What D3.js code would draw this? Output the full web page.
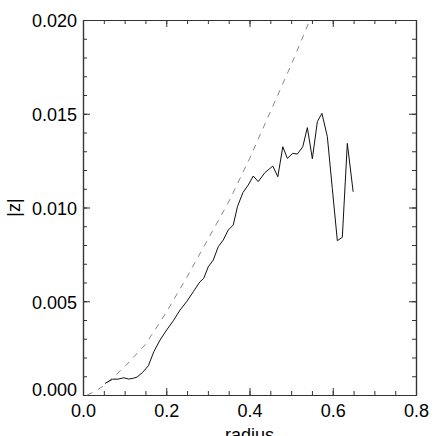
<!DOCTYPE html>
<html>
<head>
<meta charset="utf-8">
<script src="https://cdn.jsdelivr.net/npm/d3@7"></script>
<style>
  html, body { margin: 0; padding: 0; background: #fff; }
  svg { display: block; font-family: "Liberation Sans", Arial, Helvetica, sans-serif; }
</style>
</head>
<body>
<div id="chart"></div>
<script>
// measured profile (solid line)
const radius = [0.053, 0.071, 0.085, 0.098, 0.110, 0.122, 0.130, 0.143, 0.157, 0.170,
  0.185, 0.201, 0.217, 0.233, 0.249, 0.265, 0.281, 0.290, 0.301, 0.313,
  0.325, 0.337, 0.349, 0.361, 0.371, 0.384, 0.397, 0.409, 0.421, 0.437,
  0.456, 0.468, 0.480, 0.491, 0.504, 0.515, 0.528, 0.539, 0.551, 0.563,
  0.574, 0.587, 0.599, 0.611, 0.623, 0.635, 0.649];
const zAbs = [0.00062, 0.00084, 0.00085, 0.00092, 0.00085, 0.00090, 0.00096, 0.00120, 0.00156, 0.00230,
  0.00293, 0.00347, 0.00396, 0.00453, 0.00498, 0.00551, 0.00604, 0.00622, 0.00684, 0.00720,
  0.00791, 0.00827, 0.00880, 0.00907, 0.01004, 0.01079, 0.01120, 0.01168, 0.01138, 0.01186,
  0.01221, 0.01164, 0.01324, 0.01262, 0.01289, 0.01285, 0.01324, 0.01426, 0.01260, 0.01458,
  0.01502, 0.01378, 0.01100, 0.00823, 0.00841, 0.01342, 0.01084];

// model curve (dashed line)
const modelRadius = [0.010, 0.030, 0.050, 0.100, 0.150, 0.200, 0.250, 0.300, 0.350, 0.400, 0.450, 0.500, 0.545];
const modelZ = [0.0000, 0.0002, 0.0005, 0.0015, 0.0027, 0.0044, 0.0063, 0.0083, 0.0103, 0.0126, 0.0151, 0.0176, 0.0200];

const xMajor = [0, 0.2, 0.4, 0.6, 0.8];
const yMajor = [0, 0.005, 0.010, 0.015, 0.020];

const width = 436, height = 436;
const margin = { top: 20, right: 20, bottom: 41, left: 83 };
const plotW = width - margin.left - margin.right;
const plotH = height - margin.top - margin.bottom;

const svg = d3.select('#chart').append('svg')
  .attr('width', width)
  .attr('height', height);

const g = svg.append('g').attr('transform', `translate(${margin.left},${margin.top})`);

const x = d3.scaleLinear().domain([0, 0.8]).range([0, plotW]);
const y = d3.scaleLinear().domain([0, 0.02]).range([plotH, 0]);

const xMinor = d3.range(0, 0.8001, 0.05);
const yMinor = d3.range(0, 0.02001, 0.001);

const axisColor = '#333';

function styleAxis(sel) {
  sel.selectAll('path, line').attr('stroke', axisColor);
  sel.selectAll('text').attr('fill', '#000').attr('font-size', 18)
    .attr('font-family', '"Liberation Sans", Arial, Helvetica, sans-serif');
}

// bottom axis with labels
g.append('g').attr('transform', `translate(0,${plotH})`)
  .call(d3.axisBottom(x).tickValues(xMajor).tickFormat(d3.format('.1f')).tickSize(-7).tickSizeOuter(0).tickPadding(9))
  .call(styleAxis);
g.append('g').attr('transform', `translate(0,${plotH})`)
  .call(d3.axisBottom(x).tickValues(xMinor).tickFormat('').tickSize(-4).tickSizeOuter(0))
  .call(styleAxis);

// top axis (no labels)
g.append('g')
  .call(d3.axisTop(x).tickValues(xMajor).tickFormat('').tickSize(-7).tickSizeOuter(0))
  .call(styleAxis);
g.append('g')
  .call(d3.axisTop(x).tickValues(xMinor).tickFormat('').tickSize(-4).tickSizeOuter(0))
  .call(styleAxis);

// left axis with labels
const yAxisG = g.append('g')
  .call(d3.axisLeft(y).tickValues(yMajor).tickFormat(d3.format('.3f')).tickSize(-7).tickSizeOuter(0).tickPadding(6))
  .call(styleAxis);
yAxisG.selectAll('text').attr('dy', (d) => d === 0 ? '0em' : '0.38em');
g.append('g')
  .call(d3.axisLeft(y).tickValues(yMinor).tickFormat('').tickSize(-4).tickSizeOuter(0))
  .call(styleAxis);

// right axis (no labels)
g.append('g').attr('transform', `translate(${plotW},0)`)
  .call(d3.axisRight(y).tickValues(yMajor).tickFormat('').tickSize(-7).tickSizeOuter(0))
  .call(styleAxis);
g.append('g').attr('transform', `translate(${plotW},0)`)
  .call(d3.axisRight(y).tickValues(yMinor).tickFormat('').tickSize(-4).tickSizeOuter(0))
  .call(styleAxis);

g.selectAll('.domain').attr('stroke-width', 1.2);

const line = d3.line().x((d) => x(d[0])).y((d) => y(d[1]));

g.append('path')
  .datum(d3.zip(modelRadius, modelZ))
  .attr('fill', 'none')
  .attr('stroke', '#888')
  .attr('stroke-width', 1)
  .attr('stroke-dasharray', '6,6')
  .attr('d', line);

g.append('path')
  .datum(d3.zip(radius, zAbs))
  .attr('fill', 'none')
  .attr('stroke', '#111')
  .attr('stroke-width', 1)
  .attr('d', line);

// axis titles
svg.append('text')
  .attr('x', margin.left + plotW / 2)
  .attr('y', 441)
  .attr('text-anchor', 'middle')
  .attr('font-size', 18)
  .text('radius');

svg.append('text')
  .attr('transform', `translate(20,${margin.top + plotH / 2}) rotate(-90)`)
  .attr('text-anchor', 'middle')
  .attr('font-size', 18)
  .text('|z|');
</script>
</body>
</html>
